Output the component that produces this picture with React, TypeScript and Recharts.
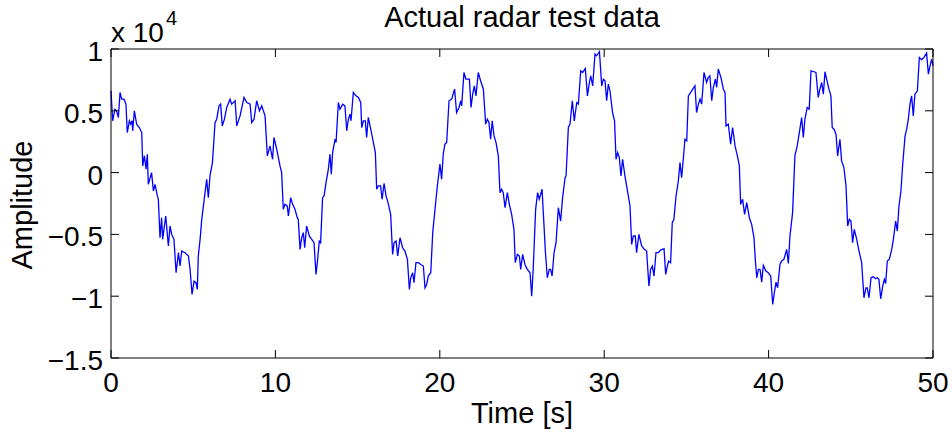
import { LineChart, Line, XAxis, YAxis } from "recharts";

const FONT = "'Liberation Sans', Arial, Helvetica, sans-serif";

// time in seconds
const timeS = [
  0, 0.1, 0.24, 0.34, 0.45, 0.55, 0.65, 0.79, 0.91, 0.99, 1.12, 1.2, 1.28, 1.32, 1.42, 1.56, 1.72, 1.87, 1.93, 2.03,
  2.13, 2.21, 2.27, 2.47, 2.58, 2.68, 2.82, 2.88, 2.98, 3.08, 3.14, 3.33, 3.49, 3.59, 3.69, 3.83, 3.96, 4.1, 4.2, 4.3,
  4.5, 4.71, 4.81, 4.93, 5.05, 5.17, 5.25, 5.31, 5.42, 5.52, 5.72, 5.82, 5.92, 6.02, 6.17, 6.33, 6.43, 6.57, 6.67, 6.77,
  6.9, 7.04, 7.24, 7.34, 7.55, 7.65, 7.85, 8.09, 8.26, 8.46, 8.56, 8.7, 8.86, 9.03, 9.17, 9.37, 9.51,
  9.67, 9.83, 9.91, 10.08, 10.28, 10.38, 10.48, 10.58, 10.72, 10.79, 10.93, 11.05, 11.19, 11.33, 11.39, 11.5, 11.6, 11.7,
  11.78, 11.9, 12.06, 12.21, 12.35, 12.47, 12.57, 12.67, 12.75, 12.87, 12.96, 13.08, 13.22, 13.32, 13.4, 13.48, 13.63,
  13.69, 13.83, 13.93, 14.09, 14.23, 14.34, 14.44, 14.54, 14.6, 14.74, 14.9, 15.05, 15.19, 15.25, 15.35, 15.47, 15.55,
  15.65, 15.8, 15.92, 16.08, 16.16, 16.26, 16.4, 16.49, 16.61, 16.73, 16.85, 17.01, 17.13, 17.22, 17.34, 17.44, 17.58,
  17.74, 17.88, 18.03, 18.15, 18.23, 18.35, 18.43, 18.55, 18.7, 18.84, 19.0, 19.1, 19.2, 19.3, 19.45, 19.57, 19.71, 19.85,
  20.01, 20.11, 20.21, 20.31, 20.42, 20.56, 20.72, 20.9, 21.02, 21.17, 21.27, 21.33, 21.47, 21.59, 21.8, 21.9, 22.0,
  22.1, 22.2, 22.34, 22.48, 22.65, 22.79, 22.89, 22.99, 23.09, 23.19, 23.3, 23.42, 23.56, 23.66, 23.76, 23.86, 23.97,
  24.11, 24.23, 24.37, 24.51, 24.59, 24.72, 24.84, 24.92, 25.04, 25.18, 25.32, 25.49, 25.59, 25.69, 25.83, 25.95, 26.05,
  26.22, 26.34, 26.42, 26.54, 26.66, 26.74, 26.83, 26.95, 27.07, 27.21, 27.35, 27.47, 27.62, 27.68, 27.82, 27.92, 28.06,
  28.18, 28.33, 28.43, 28.57, 28.69, 28.85, 28.98, 29.1, 29.18, 29.3, 29.44, 29.54, 29.71, 29.85, 29.95, 30.05, 30.15, 30.25,
  30.35, 30.51, 30.63, 30.72, 30.82, 30.92, 31.02, 31.12, 31.26, 31.4, 31.57, 31.67, 31.77, 31.89, 31.97, 32.11, 32.28,
  32.44, 32.58, 32.72, 32.82, 32.93, 33.03, 33.15, 33.29, 33.43, 33.64, 33.74, 33.84, 33.92, 34.04, 34.14, 34.24, 34.37,
  34.51, 34.61, 34.71, 34.81, 34.91, 35.02, 35.12, 35.32, 35.52, 35.62, 35.73, 35.83, 35.93, 36.07, 36.23, 36.33, 36.43,
  36.54, 36.64, 36.76, 36.84, 36.94, 37.1, 37.25, 37.35, 37.41, 37.55, 37.69, 37.81, 37.96, 38.1, 38.22, 38.3, 38.42,
  38.54, 38.67, 38.83, 38.97, 39.11, 39.19, 39.28, 39.38, 39.48, 39.58, 39.68, 39.84, 39.98, 40.13, 40.25, 40.35, 40.45, 40.55,
  40.69, 40.79, 40.93, 41.1, 41.2, 41.3, 41.46, 41.6, 41.74, 41.87, 42.01, 42.11, 42.21, 42.35, 42.47, 42.58, 42.72,
  42.88, 43.02, 43.12, 43.23, 43.33, 43.43, 43.53, 43.67, 43.79, 43.87, 43.98, 44.1, 44.2, 44.34, 44.44, 44.58, 44.71,
  44.81, 44.91, 45.01, 45.11, 45.21, 45.36, 45.5, 45.66, 45.8, 45.92, 46.0, 46.11, 46.23, 46.37, 46.51, 46.61, 46.71,
  46.82, 46.94, 47.04, 47.12, 47.22, 47.34, 47.49, 47.59, 47.73, 47.83, 47.93, 48.05, 48.15, 48.3, 48.4, 48.5, 48.6,
  48.7, 48.8, 48.9, 49.05, 49.17, 49.31, 49.45, 49.61, 49.72, 49.82, 49.92, 50.0,
];

const amplitude = [
  6620, 4190, 5130, 5000, 4460, 6480, 5940, 5940, 5540, 3240, 4190, 3920, 4190, 3380, 5000, 3920, 3650, 3240, 540, 1350,
  270, 1490, -950, 0, -1490, -950, -1890, -2160, -5270, -3650, -5400, -3510, -5940, -4320, -5000, -5400, -8100, -6480, -7560, -6350,
  -6480, -6750, -7830, -9860, -8780, -8910, -9450, -6750, -5400, -3780, -1620, -540, -2030, -270, 810, 4050, 4320, 5400, 5540, 3780,
  4320, 5270, 5940, 5540, 5810, 3780, 4590, 6080, 5670, 5540, 4050, 4320, 5810, 5000, 5400, 4590, 1350,
  2160, 1080, 2840, 1890, 540, 0, -2970, -2570, -2700, -3510, -2030, -2570, -2970, -3650, -3780, -6210, -5270, -4860,
  -6080, -4320, -5130, -5400, -5670, -8240, -7020, -5540, -5670, -2030, -1890, -810, 270, 1490, -140, 1620, 2700,
  2430, 5670, 5130, 5540, 5400, 3380, 4320, 4730, 4190, 6480, 6210, 6080, 5670, 3650, 4190, 4190, 2840,
  4460, 3510, 2700, 1620, -1350, -1080, -1080, -2160, -860, -1890, -2430, -3380, -6620, -5670, -5540, -6750, -5270,
  -6080, -6350, -7020, -9450, -8510, -8100, -8910, -7290, -7290, -7430, -7560, -9320, -9050, -8370, -8100, -4860, -2970, -1080,
  680, -540, 1490, 2300, 2430, 5810, 5940, 6750, 4860, 5270, 5810, 5400, 8100, 7560, 7560, 5270, 6350,
  7020, 6210, 8100, 7430, 6750, 3920, 4320, 4050, 2700, 4190, 2970, 2430, 1350, -1620, -1350, -1620, -2840,
  -1620, -2570, -3380, -4590, -7290, -6620, -6750, -7830, -6620, -7430, -7830, -8100, -10000, -7560, -2970, -1620, -2160,
  -1350, -4320, -6350, -8510, -7830, -7830, -8370, -6480, -5670, -2840, -3920, -2030, -410, -270, 3650, 3920, 5810,
  4190, 5670, 5540, 8240, 8100, 8430, 6210, 7290, 7830, 7020, 9590, 9450, 9780, 7020, 7560, 7430, 5810, 7160,
  6620, 4860, 4190, 1080, 1620, 1220, -270, 1080, -270, -1350, -2700, -5810, -5130, -5130, -6480, -5000, -5940,
  -6210, -6350, -9180, -7830, -7560, -8370, -6480, -6480, -6270, -6160, -8240, -7560, -7160, -7290, -4050, -3780, -1890,
  -680, 810, -410, 1080, 2700, 2570, 6210, 6620, 7020, 4860, 5540, 5940, 5540, 8100, 7290, 7700, 7830,
  5810, 6890, 7560, 6890, 8370, 7700, 6750, 6480, 3780, 3920, 2300, 3650, 2160, 1350, 540, -2570, -2160,
  -3380, -2430, -3650, -4190, -5270, -7020, -8510, -7830, -7830, -8860, -7510, -7970, -8100, -8370, -10670, -9720, -8860, -9320,
  -7430, -7160, -7020, -6210, -7350, -5130, -3240, 1350, 2160, 3240, 4460, 2840, 4320, 5270, 5130, 8240, 8180,
  8100, 6080, 6750, 7290, 6350, 8160, 7560, 6750, 6210, 3650, 3510, 3110, 1350, 2700, 950, 410, -1080,
  -4320, -3780, -3920, -5670, -4590, -5400, -6350, -7290, -10130, -9320, -9320, -10130, -8510, -8430, -8590, -8510, -8640,
  -10210, -9180, -8640, -8970, -7160, -7020, -6210, -5400, -3920, -4730, -2700, -1490, 540, 2970, 3510, 4320, 5540,
  6210, 4590, 6350, 6620, 9320, 9130, 9320, 9670, 7970, 8640, 9180, 8640,
];

const xTicks = [0, 10, 20, 30, 40, 50];
const yTicks = [-15000, -10000, -5000, 0, 5000, 10000];

const data = timeS.map((t, i) => ({ t, amp: amplitude[i] }));

const fmtY = (v: number) => {
  const s = String(v / 10000);
  return s.replace("-", "\u2212");
};

const XTick = ({ x, y, payload }: any) => (
  <text x={x} y={y + 42} textAnchor="middle" fontSize={28} fontFamily={FONT} fill="#000">
    {payload.value}
  </text>
);

const YTick = ({ x, y, payload }: any) => (
  <text x={x - 16} y={y + 12} textAnchor="end" fontSize={28} fontFamily={FONT} fill="#000">
    {fmtY(payload.value)}
  </text>
);

const NoTick = () => <g />;

const axisStroke = { stroke: "#000", strokeWidth: 1 };

const App = () => {
  return (
    <div style={{ position: "absolute", left: 0, top: 0, width: 952, height: 432, background: "#fff" }}>
      <LineChart width={952} height={432} data={data} margin={{ top: 48, right: 18, bottom: 73, left: 110 }}>
        <XAxis
          xAxisId="b"
          dataKey="t"
          type="number"
          domain={[0, 50]}
          ticks={xTicks}
          interval={0}
          height={1}
          tickSize={-8}
          tickMargin={0}
          axisLine={axisStroke}
          tickLine={axisStroke}
          tick={<XTick />}
        />
        <XAxis
          xAxisId="t"
          orientation="top"
          dataKey="t"
          type="number"
          domain={[0, 50]}
          ticks={xTicks}
          interval={0}
          height={1}
          tickSize={-8}
          axisLine={axisStroke}
          tickLine={axisStroke}
          tick={NoTick}
        />
        <YAxis
          yAxisId="l"
          type="number"
          domain={[-15000, 10000]}
          ticks={yTicks}
          interval={0}
          width={1}
          tickSize={-8}
          tickMargin={0}
          allowDataOverflow
          axisLine={axisStroke}
          tickLine={axisStroke}
          tick={<YTick />}
        />
        <YAxis
          yAxisId="r"
          orientation="right"
          type="number"
          domain={[-15000, 10000]}
          ticks={yTicks}
          interval={0}
          width={1}
          tickSize={-8}
          allowDataOverflow
          axisLine={axisStroke}
          tickLine={axisStroke}
          tick={NoTick}
        />
        <Line
          xAxisId="b"
          yAxisId="l"
          type="linear"
          dataKey="amp"
          stroke="#0000ff"
          strokeWidth={1.3}
          dot={false}
          activeDot={false}
          isAnimationActive={false}
        />
      </LineChart>
      <svg
        width={952}
        height={432}
        style={{ position: "absolute", left: 0, top: 0, pointerEvents: "none" }}
        fontFamily={FONT}
      >
        <text x={522} y={27} textAnchor="middle" fontSize={29} fill="#000">
          Actual radar test data
        </text>
        <text x={522} y={423} textAnchor="middle" fontSize={29} fill="#000">
          Time [s]
        </text>
        <text x={32} y={205} textAnchor="middle" fontSize={29} fill="#000" transform="rotate(-90 32 205)">
          Amplitude
        </text>
        <text x={111} y={42} fontSize={28} fill="#000">
          x 10
          <tspan dx={2} dy={-17} fontSize={20}>
            4
          </tspan>
        </text>
      </svg>
    </div>
  );
};

export default App;
